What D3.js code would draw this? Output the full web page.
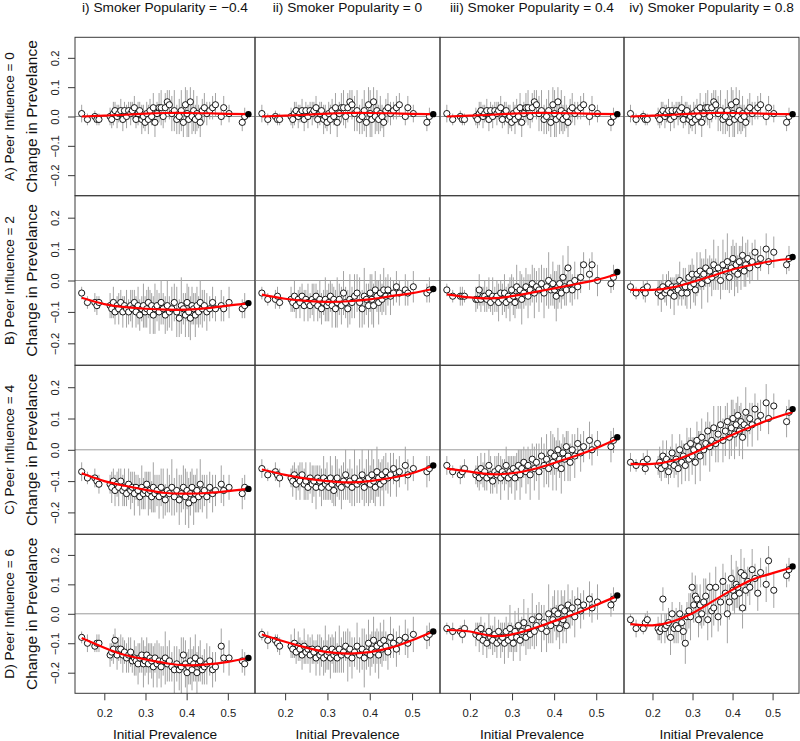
<!DOCTYPE html>
<html><head><meta charset="utf-8">
<script src="https://cdn.jsdelivr.net/npm/d3@7"></script>
<style>
body{margin:0;background:#fff;}
svg{display:block;font-family:"Liberation Sans",Arial,Helvetica,sans-serif;}
</style></head>
<body>
<svg id="chart" width="800" height="741"></svg>
<script>
// ---------- labels & ticks ----------
const colTitles = ["i) Smoker Popularity = \u22120.4","ii) Smoker Popularity = 0","iii) Smoker Popularity = 0.4","iv) Smoker Popularity = 0.8"];
const rowTitles = ["A) Peer Influence = 0","B) Peer Influence = 2","C) Peer Influence = 4","D) Peer Influence = 6"];
const yLabel = "Change in Prevelance";
const xLabel = "Initial Prevalence";
const xTicks = [0.2,0.3,0.4,0.5];
const yTicks = [-0.2,-0.1,0.0,0.1,0.2];
const xDomain = [0.1288,0.566];
const yDomain = [-0.27,0.27];

// ---------- data: initial prevalence of each simulated network ----------
const xs = [0.145,0.159,0.177,0.182,0.187,0.214,0.218,0.222,0.226,0.231,0.235,0.240,0.245,0.249,0.254,0.259,0.264,0.268,0.273,0.277,0.282,0.286,0.291,0.295,0.299,0.303,0.307,0.311,0.315,0.319,0.323,0.328,0.333,0.338,0.343,0.348,0.353,0.358,0.364,0.370,0.376,0.382,0.387,0.392,0.397,0.401,0.405,0.409,0.413,0.417,0.421,0.425,0.429,0.433,0.438,0.443,0.449,0.456,0.463,0.470,0.484,0.490,0.503,0.535,0.541];

// change in prevalence, per panel
const yA = [0.01,-0.01,0.00,-0.01,-0.01, 0.00,-0.01,0.01,0.02,0.00, 0.01,0.02,-0.01,0.02,0.00, 0.02,0.01,0.02,0.03,-0.01, 0.01,0.02,-0.01,0.00,-0.02, 0.01,-0.01,0.02,0.00,0.03, -0.02,0.01,0.03,0.03,0.00, 0.03,0.05,0.04,0.01,0.02, -0.01,0.00,0.02,-0.02,0.04, 0.01,-0.01,0.05,0.00,0.02, -0.01,0.01,0.00,-0.02,0.02, 0.03,0.01,0.02,0.03,0.04, 0.00,0.03,0.01,-0.02,0.00];
const yBi = [-0.04,-0.07,-0.07,-0.08,-0.07, -0.08,-0.09,-0.07,-0.10,-0.08, -0.09,-0.07,-0.10,-0.08,-0.09, -0.10,-0.08,-0.09,-0.07,-0.10, -0.08,-0.11,-0.09,-0.08,-0.10, -0.09,-0.07,-0.10,-0.08,-0.11, -0.09,-0.08,-0.10,-0.07,-0.09, -0.11,-0.08,-0.10,-0.09,-0.07, -0.10,-0.12,-0.08,-0.09,-0.11, -0.07,-0.10,-0.12,-0.08,-0.09, -0.11,-0.08,-0.10,-0.07,-0.09, -0.08,-0.10,-0.09,-0.07,-0.09, -0.08,-0.09,-0.07,-0.09,-0.08];
const yBii = [-0.04,-0.06,-0.06,-0.05,-0.07, -0.06,-0.07,-0.05,-0.08,-0.06, -0.07,-0.05,-0.08,-0.06,-0.07, -0.08,-0.06,-0.07,-0.05,-0.08, -0.06,-0.09,-0.07,-0.06,-0.08, -0.07,-0.05,-0.08,-0.06,-0.09, -0.07,-0.06,-0.08,-0.04,-0.07, -0.09,-0.06,-0.07,-0.05,-0.04, -0.07,-0.09,-0.05,-0.06,-0.08, -0.04,-0.06,-0.08,-0.03,-0.05, -0.07,-0.04,-0.06,-0.03,-0.05, -0.03,-0.05,-0.04,-0.02,-0.04, -0.03,-0.04,-0.02,-0.04,-0.03];
const yBiii = [-0.03,-0.05,-0.05,-0.05,-0.05, -0.06,-0.06,-0.03,-0.06,-0.05, -0.05,-0.06,-0.04,-0.07,-0.05, -0.06,-0.05,-0.07,-0.04,-0.06, -0.04,-0.07,-0.05,-0.06,-0.03, -0.05,-0.07,-0.02,-0.05,-0.03, -0.06,-0.04,-0.02,-0.05,-0.03, -0.01,-0.04,-0.02,-0.03,-0.01, -0.04,-0.02,0.00,-0.03,-0.01, -0.03,-0.05,-0.02,-0.01,-0.04, 0.01,-0.02,-0.03,0.04,-0.01, -0.03,0.00,-0.02,0.01,0.05, 0.02,0.05,0.00,-0.01,0.01];
const yBiv = [-0.02,-0.04,-0.03,-0.04,-0.02, -0.04,-0.03,-0.05,-0.02,-0.04, -0.03,-0.01,-0.04,-0.02,-0.05, -0.02,-0.03,0.00,-0.04,-0.01, -0.02,-0.04,0.01,-0.02,0.02, -0.01,-0.03,0.02,0.00,0.03, -0.01,0.02,0.04,0.00,0.03, 0.01,0.05,0.02,0.04,0.00, 0.05,0.03,0.06,0.01,0.04, 0.07,0.03,0.05,0.02,0.06, 0.04,0.08,0.03,0.05,0.07, 0.04,0.06,0.09,0.05,0.07, 0.10,0.06,0.09,0.05,0.07];
const yCi = [-0.07,-0.09,-0.09,-0.10,-0.11, -0.11,-0.12,-0.10,-0.13,-0.11, -0.12,-0.10,-0.13,-0.12,-0.14, -0.11,-0.13,-0.12,-0.14,-0.12, -0.13,-0.15,-0.12,-0.14,-0.13, -0.11,-0.14,-0.13,-0.15,-0.12, -0.14,-0.13,-0.15,-0.12,-0.14, -0.16,-0.13,-0.14,-0.12,-0.15, -0.13,-0.16,-0.14,-0.12,-0.15, -0.13,-0.17,-0.14,-0.12,-0.16, -0.14,-0.13,-0.15,-0.11,-0.14, -0.13,-0.15,-0.12,-0.14,-0.13, -0.11,-0.13,-0.12,-0.14,-0.12];
const yCii = [-0.06,-0.08,-0.07,-0.08,-0.09, -0.09,-0.10,-0.08,-0.11,-0.09, -0.10,-0.08,-0.11,-0.10,-0.12, -0.09,-0.11,-0.10,-0.12,-0.09, -0.10,-0.12,-0.09,-0.11,-0.10, -0.12,-0.09,-0.11,-0.13,-0.10, -0.09,-0.11,-0.12,-0.10,-0.08, -0.11,-0.10,-0.12,-0.09,-0.11, -0.10,-0.08,-0.12,-0.10,-0.09, -0.11,-0.08,-0.10,-0.12,-0.07, -0.09,-0.11,-0.08,-0.10,-0.07, -0.09,-0.08,-0.06,-0.09,-0.07, -0.05,-0.08,-0.06,-0.07,-0.06];
const yCiii = [-0.05,-0.07,-0.08,-0.07,-0.06, -0.08,-0.07,-0.09,-0.06,-0.08, -0.07,-0.09,-0.05,-0.08,-0.10, -0.07,-0.08,-0.06,-0.09,-0.07, -0.08,-0.05,-0.09,-0.07,-0.08, -0.06,-0.09,-0.07,-0.05,-0.08, -0.06,-0.04,-0.07,-0.05,-0.08, -0.03,-0.06,-0.04,-0.07,-0.02, -0.05,-0.03,-0.06,-0.01,-0.04, -0.02,-0.05,0.00,-0.03,-0.06, -0.01,-0.03,0.01,-0.02,-0.04, 0.00,-0.02,0.02,-0.01,0.01, 0.03,0.00,0.02,0.01,0.03];
const yCiv = [-0.04,-0.05,-0.04,-0.06,-0.03, -0.05,-0.04,-0.06,-0.02,-0.05, -0.03,-0.07,-0.04,-0.01,-0.05, -0.03,-0.06,0.00,-0.04,-0.02, -0.05,0.01,-0.03,0.02,-0.02, 0.00,-0.04,0.03,0.01,-0.02, 0.04,0.00,0.02,0.06,0.01, 0.03,0.07,0.02,0.05,0.08, 0.03,0.06,0.09,0.04,0.07, 0.10,0.05,0.08,0.11,0.06, 0.09,0.04,0.08,0.12,0.07, 0.10,0.08,0.13,0.09,0.11, 0.15,0.10,0.14,0.09,0.12];
const yDi = [-0.08,-0.10,-0.11,-0.10,-0.10, -0.14,-0.13,-0.12,-0.09,-0.14, -0.12,-0.12,-0.14,-0.13,-0.15, -0.14,-0.13,-0.16,-0.15,-0.16, -0.17,-0.15,-0.14,-0.17,-0.16, -0.14,-0.17,-0.15,-0.16,-0.18, -0.15,-0.17,-0.16,-0.18,-0.16, -0.15,-0.17,-0.16,-0.18,-0.19, -0.17,-0.19,-0.18,-0.14,-0.17, -0.20,-0.18,-0.16,-0.19,-0.17, -0.15,-0.20,-0.17,-0.16,-0.19, -0.18,-0.17,-0.16,-0.19,-0.18, -0.11,-0.15,-0.15,-0.16,-0.17];
const yDii = [-0.07,-0.09,-0.09,-0.10,-0.11, -0.11,-0.12,-0.10,-0.13,-0.11, -0.12,-0.14,-0.11,-0.13,-0.12, -0.14,-0.12,-0.13,-0.15,-0.12, -0.14,-0.13,-0.15,-0.12,-0.14, -0.13,-0.15,-0.12,-0.14,-0.13, -0.15,-0.12,-0.14,-0.13,-0.11, -0.14,-0.12,-0.15,-0.13,-0.11, -0.14,-0.12,-0.15,-0.13,-0.10, -0.14,-0.12,-0.09,-0.13,-0.11, -0.14,-0.10,-0.12,-0.09,-0.11, -0.13,-0.08,-0.10,-0.12,-0.09, -0.08,-0.10,-0.07,-0.08,-0.07];
const yDiii = [-0.05,-0.06,-0.06,-0.07,-0.05, -0.07,-0.06,-0.08,-0.05,-0.09, -0.07,-0.10,-0.06,-0.08,-0.09, -0.07,-0.10,-0.06,-0.09,-0.08, -0.10,-0.06,-0.09,-0.05,-0.08, -0.10,-0.06,-0.08,-0.04,-0.09, -0.06,-0.03,-0.08,-0.05,-0.07, -0.02,-0.06,-0.04,-0.01,-0.05, -0.03,-0.06,0.00,-0.04,-0.02, 0.01,-0.03,0.00,-0.05,0.02, -0.02,0.01,-0.04,0.03,0.00, 0.02,-0.01,0.04,0.01,0.03, 0.05,0.02,0.04,0.03,0.05];
const yDiv = [-0.02,-0.05,-0.05,-0.03,-0.02, -0.05,-0.06,-0.05,0.05,-0.05, -0.04,-0.03,-0.08,0.00,-0.05, -0.04,-0.05,0.00,-0.03,-0.06, -0.10,-0.01,0.01,-0.01,0.09, 0.03,0.06,0.05,-0.02,0.03, 0.00,0.04,0.06,-0.02,0.09, 0.01,0.02,0.09,-0.01,0.04, 0.11,0.07,0.00,0.04,0.12, 0.08,0.06,0.10,0.09,0.07, 0.14,0.02,0.13,0.08,0.11, 0.09,0.15,0.12,0.07,0.14, 0.10,0.18,0.08,0.13,0.15];

// half-width of the grey interval of each point, per row
const eA = [0.03,0.02,0.02,0.02,0.02, 0.03,0.03,0.04,0.03,0.04, 0.03,0.04,0.04,0.03,0.04, 0.03,0.04,0.03,0.04,0.03, 0.04,0.03,0.05,0.04,0.03, 0.04,0.05,0.04,0.03,0.05, 0.05,0.04,0.05,0.06,0.04, 0.05,0.04,0.05,0.06,0.07, 0.05,0.06,0.07,0.05,0.06, 0.08,0.06,0.05,0.06,0.07, 0.05,0.06,0.04,0.05,0.04, 0.05,0.04,0.03,0.04,0.04, 0.03,0.04,0.03,0.03,0.03];
const eB = [0.02,0.02,0.03,0.03,0.02, 0.04,0.03,0.05,0.04,0.03, 0.05,0.04,0.05,0.03,0.06, 0.04,0.05,0.06,0.04,0.05, 0.06,0.05,0.04,0.07,0.05, 0.06,0.05,0.07,0.04,0.06, 0.08,0.05,0.06,0.07,0.05, 0.06,0.08,0.05,0.07,0.06, 0.08,0.06,0.09,0.05,0.07, 0.06,0.08,0.07,0.06,0.05, 0.07,0.06,0.05,0.07,0.06, 0.05,0.06,0.04,0.05,0.04, 0.05,0.04,0.05,0.03,0.04];
const eC = [0.03,0.02,0.03,0.02,0.03, 0.03,0.05,0.04,0.05,0.04, 0.06,0.04,0.05,0.06,0.04, 0.05,0.06,0.05,0.07,0.04, 0.05,0.06,0.07,0.05,0.06, 0.04,0.07,0.06,0.05,0.08, 0.06,0.05,0.07,0.06,0.08, 0.05,0.07,0.06,0.09,0.06, 0.07,0.08,0.06,0.07,0.09, 0.06,0.08,0.07,0.06,0.08, 0.06,0.07,0.05,0.08,0.06, 0.05,0.07,0.05,0.06,0.05, 0.06,0.05,0.04,0.05,0.04];
const eD = [0.02,0.03,0.02,0.03,0.03, 0.04,0.03,0.05,0.04,0.05, 0.04,0.05,0.06,0.04,0.05, 0.06,0.05,0.04,0.06,0.05, 0.07,0.05,0.06,0.08,0.05, 0.06,0.07,0.05,0.06,0.07, 0.05,0.08,0.06,0.07,0.05, 0.09,0.06,0.07,0.05,0.08, 0.06,0.07,0.10,0.06,0.08, 0.07,0.06,0.08,0.07,0.06, 0.08,0.07,0.06,0.07,0.05, 0.06,0.07,0.05,0.06,0.05, 0.06,0.05,0.06,0.04,0.04];

// smooth fit (red line), read at these x positions
const fitX = [0.145,0.2,0.25,0.3,0.35,0.4,0.45,0.5,0.55];
const fitA   = [0.000,0.003,0.006,0.010,0.012,0.012,0.011,0.009,0.008];
const fitBi  = [-0.055,-0.075,-0.085,-0.090,-0.093,-0.093,-0.088,-0.080,-0.073];
const fitBii = [-0.045,-0.058,-0.065,-0.068,-0.066,-0.060,-0.050,-0.040,-0.027];
const fitBiii= [-0.044,-0.054,-0.057,-0.050,-0.038,-0.025,-0.012,0.002,0.020];
const fitBiv = [-0.030,-0.030,-0.022,-0.005,0.015,0.035,0.050,0.062,0.070];
const fitCi  = [-0.075,-0.100,-0.115,-0.128,-0.138,-0.140,-0.138,-0.132,-0.125];
const fitCii = [-0.063,-0.080,-0.092,-0.100,-0.104,-0.100,-0.090,-0.075,-0.050];
const fitCiii= [-0.060,-0.070,-0.078,-0.075,-0.062,-0.042,-0.020,0.005,0.035];
const fitCiv = [-0.045,-0.045,-0.035,-0.012,0.018,0.048,0.075,0.100,0.120];
const fitDi  = [-0.082,-0.115,-0.140,-0.155,-0.168,-0.175,-0.172,-0.163,-0.150];
const fitDii = [-0.070,-0.095,-0.115,-0.130,-0.135,-0.130,-0.115,-0.090,-0.060];
const fitDiii= [-0.055,-0.060,-0.075,-0.070,-0.050,-0.025,0.000,0.030,0.060];
const fitDiv = [-0.035,-0.039,-0.026,0.002,0.042,0.082,0.116,0.138,0.158];

// black end point (prevalence = 0.55)
const endX = 0.55;
const endA = [0.008,0.008,0.008,0.008];
const endB = [-0.072,-0.027,0.027,0.075];
const endC = [-0.125,-0.050,0.040,0.130];
const endD = [-0.150,-0.060,0.062,0.161];

// ---------- assemble panels ----------
const panelY   = [[yA,yA,yA,yA],[yBi,yBii,yBiii,yBiv],[yCi,yCii,yCiii,yCiv],[yDi,yDii,yDiii,yDiv]];
const panelFit = [[fitA,fitA,fitA,fitA],[fitBi,fitBii,fitBiii,fitBiv],[fitCi,fitCii,fitCiii,fitCiv],[fitDi,fitDii,fitDiii,fitDiv]];
const rowErr   = [eA,eB,eC,eD];
const rowEnd   = [endA,endB,endC,endD];

// ---------- layout ----------
const colEdges = [75,255,440,624,799];
const rowEdges = [37.3,195.7,365.3,534.3,693.3];
const FONT = 13.7;

const svg = d3.select("#chart");

for (let r = 0; r < 4; r++) {
  for (let c = 0; c < 4; c++) {
    const x = d3.scaleLinear().domain(xDomain).range([colEdges[c], colEdges[c+1]]);
    const y = d3.scaleLinear().domain(yDomain).range([rowEdges[r+1], rowEdges[r]]);
    const g = svg.append("g");
    const clipId = `clip${r}${c}`;
    g.append("clipPath").attr("id", clipId).append("rect")
      .attr("x", colEdges[c]).attr("y", rowEdges[r])
      .attr("width", colEdges[c+1]-colEdges[c]).attr("height", rowEdges[r+1]-rowEdges[r]);
    const inner = g.append("g").attr("clip-path", `url(#${clipId})`);

    // zero reference line
    inner.append("line")
      .attr("x1", colEdges[c]).attr("x2", colEdges[c+1])
      .attr("y1", y(0)).attr("y2", y(0))
      .attr("stroke", "#9a9a9a").attr("stroke-width", 1);

    const ys = panelY[r][c];
    const es = rowErr[r];
    const pts = xs.map((xv, i) => ({x: xv, y: ys[i], e: es[i]}));

    inner.selectAll("line.err").data(pts).enter().append("line")
      .attr("class", "err")
      .attr("x1", d => x(d.x)).attr("x2", d => x(d.x))
      .attr("y1", d => y(d.y - d.e)).attr("y2", d => y(d.y + d.e))
      .attr("stroke", "#a3a3a3").attr("stroke-width", 1);

    inner.selectAll("circle.pt").data(pts).enter().append("circle")
      .attr("class", "pt")
      .attr("cx", d => x(d.x)).attr("cy", d => y(d.y))
      .attr("r", 3.1)
      .attr("fill", "#fff").attr("stroke", "#000").attr("stroke-width", 0.9);

    const fit = panelFit[r][c];
    const line = d3.line().x(d => x(d[0])).y(d => y(d[1])).curve(d3.curveNatural);
    inner.append("path")
      .datum(fitX.map((xv, i) => [xv, fit[i]]))
      .attr("d", line)
      .attr("fill", "none").attr("stroke", "#ff0000").attr("stroke-width", 2.2);

    inner.append("circle")
      .attr("cx", x(endX)).attr("cy", y(rowEnd[r][c]))
      .attr("r", 3.2).attr("fill", "#000");

    // frame
    g.append("rect")
      .attr("x", colEdges[c]).attr("y", rowEdges[r])
      .attr("width", colEdges[c+1]-colEdges[c]).attr("height", rowEdges[r+1]-rowEdges[r])
      .attr("fill", "none").attr("stroke", "#3a3a3a").attr("stroke-width", 1);

    // y axis (first column)
    if (c === 0) {
      const ay = g.append("g").attr("transform", `translate(${colEdges[0]},0)`)
        .call(d3.axisLeft(y).tickValues(yTicks).tickSize(7).tickSizeOuter(0).tickFormat(d3.format(".1f")));
      ay.select(".domain").remove();
      ay.selectAll(".tick line").attr("stroke", "#3a3a3a");
      ay.selectAll(".tick text")
        .attr("font-size", 11.3).attr("fill", "#222")
        .attr("font-family", "Liberation Sans, Arial, sans-serif")
        .attr("text-anchor", "middle").attr("x", 0).attr("dy", null)
        .attr("transform", "translate(-20,0) rotate(-90)")
        .attr("y", 0).attr("dominant-baseline", "central")
        .text(d => d3.format(".1f")(d).replace("-", "\u2212"));
    }
    // x axis (bottom row)
    if (r === 3) {
      const ax = g.append("g").attr("transform", `translate(0,${rowEdges[4]})`)
        .call(d3.axisBottom(x).tickValues(xTicks).tickSize(7).tickSizeOuter(0).tickFormat(d3.format(".1f")));
      ax.select(".domain").remove();
      ax.selectAll(".tick line").attr("stroke", "#3a3a3a");
      ax.selectAll(".tick text")
        .attr("font-size", 11.3).attr("fill", "#222")
        .attr("font-family", "Liberation Sans, Arial, sans-serif")
        .attr("y", 23.5).attr("dy", null);
      svg.append("text")
        .attr("x", (colEdges[c]+colEdges[c+1])/2).attr("y", 739)
        .attr("text-anchor", "middle").attr("font-size", FONT).attr("fill", "#111")
        .text(xLabel);
    }
  }
}

// column titles
colTitles.forEach((t, c) => {
  svg.append("text")
    .attr("x", (colEdges[c]+colEdges[c+1])/2).attr("y", 12)
    .attr("text-anchor", "middle").attr("font-size", FONT).attr("fill", "#111")
    .text(t);
});
// row titles + y labels
rowTitles.forEach((t, r) => {
  const cy = (rowEdges[r]+rowEdges[r+1])/2;
  svg.append("text")
    .attr("transform", `translate(14,${cy}) rotate(-90)`)
    .attr("text-anchor", "middle").attr("font-size", FONT).attr("fill", "#111")
    .text(t);
  svg.append("text")
    .attr("transform", `translate(36.5,${cy}) rotate(-90)`)
    .attr("text-anchor", "middle").attr("font-size", FONT + 1.8).attr("fill", "#111")
    .text(yLabel);
});
</script>
</body></html>
